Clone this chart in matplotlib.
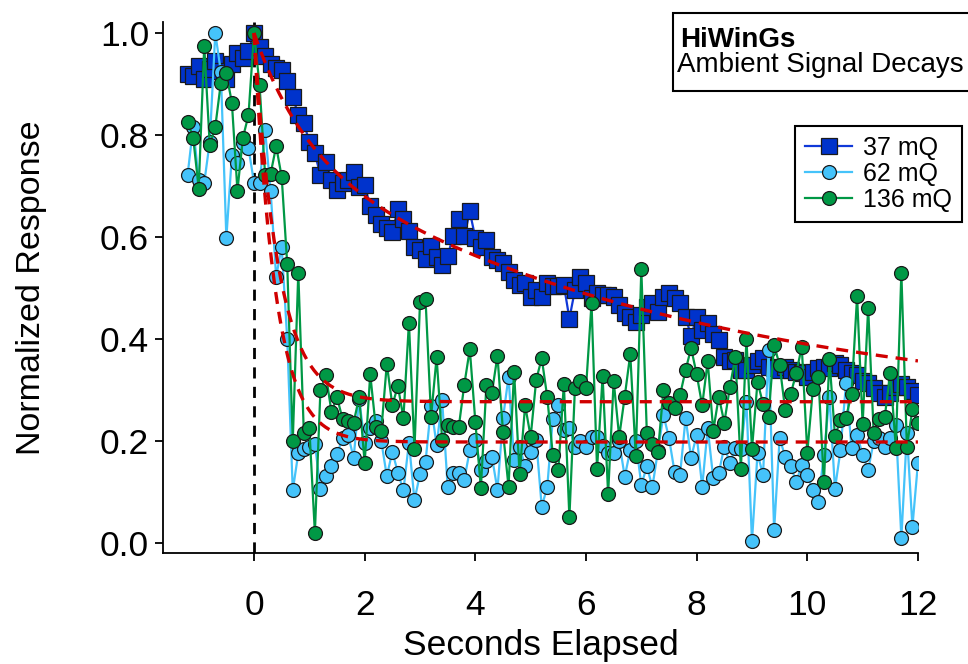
import numpy as np
import matplotlib.pyplot as plt
from matplotlib.patches import Rectangle

plt.rcParams['font.family'] = ['Liberation Sans', 'DejaVu Sans']

# ----------------------------- data ------------------------------------------
DT = 0.1
t = np.round(np.arange(-12, 121) * DT, 2)     # seconds, -1.2 ... 12.0

resp_37 = [
    0.92, 0.915, 0.935, 0.91, 0.93, 0.945, 0.925, 0.91, 0.94, 0.96, 0.95, 0.965,
    1.00, 0.973, 0.955, 0.94, 0.931, 0.927, 0.905, 0.875, 0.839, 0.823,
    0.787, 0.764, 0.721, 0.748, 0.712, 0.692, 0.706, 0.712, 0.728, 0.699,
    0.702, 0.66, 0.643, 0.625, 0.617, 0.61, 0.655, 0.635, 0.611, 0.581,
    0.575, 0.557, 0.583, 0.561, 0.545, 0.563, 0.602, 0.635, 0.601, 0.65,
    0.598, 0.581, 0.594, 0.561, 0.555, 0.549, 0.532, 0.516, 0.506, 0.510,
    0.483, 0.496, 0.483, 0.510, 0.503, 0.503, 0.506, 0.44, 0.496, 0.522,
    0.510, 0.480, 0.49, 0.486, 0.486, 0.483, 0.467, 0.451, 0.444, 0.434,
    0.447, 0.463, 0.47, 0.453, 0.483, 0.490, 0.480, 0.47, 0.444, 0.405,
    0.444, 0.418, 0.431, 0.41, 0.398, 0.365, 0.356, 0.359, 0.339, 0.339,
    0.349, 0.356, 0.363, 0.346, 0.343, 0.339, 0.346, 0.340, 0.336, 0.333,
    0.326, 0.335, 0.343, 0.346, 0.343, 0.353, 0.349, 0.34, 0.333, 0.330,
    0.318, 0.313, 0.303, 0.294, 0.286, 0.295, 0.306, 0.312, 0.305, 0.298,
    0.29,
]

resp_62 = [
    0.722, 0.816, 0.712, 0.706, 0.787, 1.00, 0.924, 0.598, 0.761, 0.745, 0.784, 0.775,
    0.706, 0.706, 0.81, 0.69, 0.522, 0.581, 0.40, 0.103, 0.176, 0.185,
    0.189, 0.194, 0.106, 0.131, 0.15, 0.174, 0.206, 0.212, 0.167, 0.282,
    0.196, 0.225, 0.240, 0.20, 0.131, 0.179, 0.138, 0.103, 0.197, 0.084,
    0.135, 0.159, 0.269, 0.192, 0.28, 0.11, 0.138, 0.138, 0.124, 0.182,
    0.202, 0.143, 0.16, 0.169, 0.104, 0.245, 0.326, 0.163, 0.189, 0.15,
    0.179, 0.202, 0.071, 0.110, 0.243, 0.27, 0.222, 0.225, 0.189, 0.20,
    0.189, 0.208, 0.208, 0.19, 0.176, 0.176, 0.199, 0.130, 0.182, 0.199,
    0.114, 0.15, 0.110, 0.18, 0.251, 0.206, 0.140, 0.133, 0.245, 0.167,
    0.212, 0.11, 0.225, 0.127, 0.137, 0.189, 0.157, 0.186, 0.184, 0.277,
    0.003, 0.176, 0.133, 0.378, 0.025, 0.206, 0.169, 0.15, 0.12, 0.153,
    0.133, 0.104, 0.081, 0.173, 0.287, 0.106, 0.182, 0.314, 0.186, 0.212,
    0.173, 0.143, 0.199, 0.206, 0.189, 0.206, 0.231, 0.01, 0.216, 0.032,
    0.157,
]

resp_136 = [
    0.826, 0.795, 0.695, 0.975, 0.78, 0.816, 0.902, 0.921, 0.863, 0.691, 0.795, 0.839,
    1.00, 0.898, 0.722, 0.724, 0.778, 0.718, 0.547, 0.199, 0.53, 0.216,
    0.225, 0.02, 0.30, 0.329, 0.257, 0.286, 0.243, 0.24, 0.236, 0.286,
    0.157, 0.331, 0.228, 0.22, 0.351, 0.27, 0.308, 0.245, 0.432, 0.184,
    0.473, 0.478, 0.248, 0.364, 0.202, 0.231, 0.228, 0.227, 0.31, 0.38,
    0.238, 0.107, 0.31, 0.295, 0.367, 0.218, 0.11, 0.336, 0.135, 0.27,
    0.208, 0.32, 0.362, 0.286, 0.173, 0.143, 0.312, 0.05, 0.303, 0.318,
    0.303, 0.47, 0.145, 0.327, 0.096, 0.318, 0.208, 0.287, 0.37, 0.171,
    0.537, 0.215, 0.194, 0.178, 0.30, 0.274, 0.264, 0.29, 0.339, 0.382,
    0.331, 0.27, 0.356, 0.22, 0.287, 0.236, 0.305, 0.365, 0.146, 0.40,
    0.184, 0.316, 0.273, 0.248, 0.388, 0.349, 0.261, 0.292, 0.333, 0.385,
    0.177, 0.301, 0.326, 0.119, 0.36, 0.21, 0.241, 0.246, 0.293, 0.484,
    0.233, 0.461, 0.215, 0.244, 0.247, 0.334, 0.187, 0.53, 0.189, 0.262,
    0.235,
]

labels = ['37 mQ', '62 mQ', '136 mQ']

# exponential fits: y0 + A1*exp(-t/tau1) + A2*exp(-t/tau2)
fit_37 = dict(y0=0.25, a1=0.22, tau1=0.9, a2=0.53, tau2=7.5)
fit_62 = dict(y0=0.198, a1=0.802, tau1=0.39, a2=0.0, tau2=1.0)
fit_136 = dict(y0=0.277, a1=0.723, tau1=0.44, a2=0.0, tau2=1.0)


def decay(tt, y0, a1, tau1, a2, tau2):
    return y0 + a1 * np.exp(-tt / tau1) + a2 * np.exp(-tt / tau2)


# ----------------------------- plot ------------------------------------------
fig = plt.figure(figsize=(9.68, 6.64), dpi=100)
ax = fig.add_axes([0.1684, 0.1672, 0.7799, 0.7997])

ax.axvline(0, ymin=0, ymax=1, color='black', lw=2, ls=(0, (4, 3)), zorder=1)

ax.plot(t, resp_37, color='#1038d8', lw=1.6, marker='s', ms=11.5,
        mfc='#0033cc', mec='#1a1a1a', mew=0.9, label=labels[0], zorder=3)
ax.plot(t, resp_62, color='#45c3fa', lw=1.6, marker='o', ms=10,
        mfc='#45c3fa', mec='#1a1a1a', mew=0.9, label=labels[1], zorder=4)
ax.plot(t, resp_136, color='#009845', lw=1.6, marker='o', ms=10,
        mfc='#009845', mec='#1a1a1a', mew=0.9, label=labels[2], zorder=5)

tf = np.linspace(0, 12, 400)
for p in (fit_37, fit_62, fit_136):
    ax.plot(tf, decay(tf, **p), color='#d00000', lw=2.4, ls=(0, (3.6, 2.4)), zorder=6)

ax.set_xlim(-1.645, 12.0)
ax.set_ylim(-0.0196, 1.0216)
ax.set_xticks(np.arange(0, 13, 2))
ax.set_yticks(np.arange(0, 1.01, 0.2))
ax.set_yticklabels([f'{v:.1f}' for v in np.arange(0, 1.01, 0.2)])
ax.spines['top'].set_visible(False)
ax.spines['right'].set_visible(False)
for s in ('left', 'bottom'):
    ax.spines[s].set_linewidth(1.3)
ax.tick_params(direction='out', length=6, width=1.3, labelsize=25.5, pad=4)
ax.tick_params(axis='x', pad=20)
ax.set_xlabel('Seconds Elapsed', fontsize=25.5, labelpad=5)
ax.set_ylabel('Normalized Response', fontsize=24.5, labelpad=38)

# title box, clipped by the right edge of the figure
fig.patches.append(Rectangle((0.695, 0.8635), 0.33, 0.1165, transform=fig.transFigure,
                             fc='white', ec='black', lw=1.5, zorder=10))
fig.text(0.7025, 0.9297, 'HiWinGs', fontsize=20, fontweight='bold',
         va='baseline', zorder=11)
fig.text(0.6995, 0.892, 'Ambient Signal Decays', fontsize=20,
         va='baseline', zorder=11)

leg = fig.legend(loc='upper right', bbox_to_anchor=(0.9935, 0.8102), fontsize=18,
                 frameon=True, fancybox=False, framealpha=1, edgecolor='black',
                 handlelength=1.86, handletextpad=0.43, labelspacing=0.08,
                 borderpad=0.4, borderaxespad=0)
leg.get_frame().set_linewidth(1.5)

fig.savefig('out.png', dpi=100)
